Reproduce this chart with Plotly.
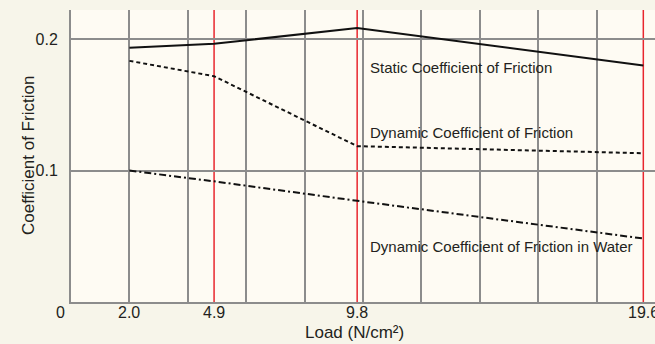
import plotly.graph_objects as go

loads = [2.0, 4.9, 9.8, 19.6]
static_cof = [0.1935, 0.1965, 0.2085, 0.1800]
dynamic_cof = [0.1835, 0.1718, 0.1186, 0.1132]
water_cof = [0.1000, 0.0918, 0.0770, 0.0483]

x_tick_labels = ["2.0", "4.9", "9.8", "19.6"]
y_tick_vals = [0.1, 0.2]
y_tick_labels = ["0.1", "0.2"]
red_lines = [4.9, 9.8, 19.6]

series_names = ["Static Coefficient of Friction",
                "Dynamic Coefficient of Friction",
                "Dynamic Coefficient of Friction in Water"]

FONT = "Liberation Sans, Arial, Helvetica, sans-serif"
TXT = "#231f20"
GRID = "#8c8c8c"

fig = go.Figure()
fig.add_trace(go.Scatter(x=loads, y=static_cof, mode="lines", name=series_names[0],
                         line=dict(color="#111", width=2)))
fig.add_trace(go.Scatter(x=loads, y=dynamic_cof, mode="lines", name=series_names[1],
                         line=dict(color="#111", width=2, dash="4px,3px")))
fig.add_trace(go.Scatter(x=loads, y=water_cof, mode="lines", name=series_names[2],
                         line=dict(color="#111", width=2, dash="7px,3px,2px,3px")))

for xv in red_lines:
    fig.add_shape(type="line", xref="x", yref="paper", x0=xv, x1=xv, y0=0, y1=1,
                  line=dict(color="#e8262e", width=1.5), layer="between")

# x tick labels
for xv, lab in zip(loads, x_tick_labels):
    fig.add_annotation(text=lab, x=xv, y=0, xref="x", yref="paper", xanchor="center",
                       yanchor="middle", yshift=-10, showarrow=False,
                       font=dict(family=FONT, size=16, color=TXT))
fig.add_annotation(text="0", x=0, y=0, xref="x", yref="paper", xanchor="center",
                   yanchor="middle", xshift=-11, yshift=-10, showarrow=False,
                   font=dict(family=FONT, size=16, color=TXT))

annots = [
    dict(text=series_names[0], x=10.17, y=0.1785),
    dict(text=series_names[1], x=10.17, y=0.129),
    dict(text=series_names[2], x=10.17, y=0.0422),
]
for a in annots:
    fig.add_annotation(text=a["text"], x=a["x"], y=a["y"], xref="x", yref="y",
                       xanchor="left", yanchor="middle", showarrow=False,
                       font=dict(family=FONT, size=15, color=TXT))

fig.add_annotation(text="Load (N/cm²)", x=0.486, y=-0.103, xref="paper", yref="paper",
                   xanchor="center", yanchor="middle", showarrow=False,
                   font=dict(family=FONT, size=17, color=TXT))
fig.add_annotation(text="Coefficient of Friction", x=-0.0736, y=0.5, xref="paper", yref="paper",
                   xanchor="center", yanchor="middle", textangle=-90, showarrow=False,
                   font=dict(family=FONT, size=17, color=TXT))

fig.update_layout(
    width=655, height=344,
    margin=dict(l=71, r=0, t=10, b=42),
    paper_bgcolor="#f7f5ea",
    plot_bgcolor="#fefbf3",
    showlegend=False,
    font=dict(family=FONT, color=TXT),
    xaxis=dict(range=[0, 20], tickmode="linear", tick0=0, dtick=2, showticklabels=False,
               showgrid=True, gridcolor=GRID, gridwidth=1.5, zeroline=False,
               showline=True, linecolor=GRID, linewidth=2, ticks=""),
    yaxis=dict(range=[0, 0.2222], tickmode="array", tickvals=y_tick_vals, ticktext=y_tick_labels,
               showgrid=True, gridcolor=GRID, gridwidth=1.5, zeroline=False,
               showline=True, linecolor=GRID, linewidth=2, ticks="",
               ticklabelstandoff=8,
               tickfont=dict(size=16, color=TXT, family=FONT)),
)

fig.write_html("out.html", config={"displayModeBar": False},
               post_script="document.body.style.margin='0';document.body.style.overflow='hidden';")
